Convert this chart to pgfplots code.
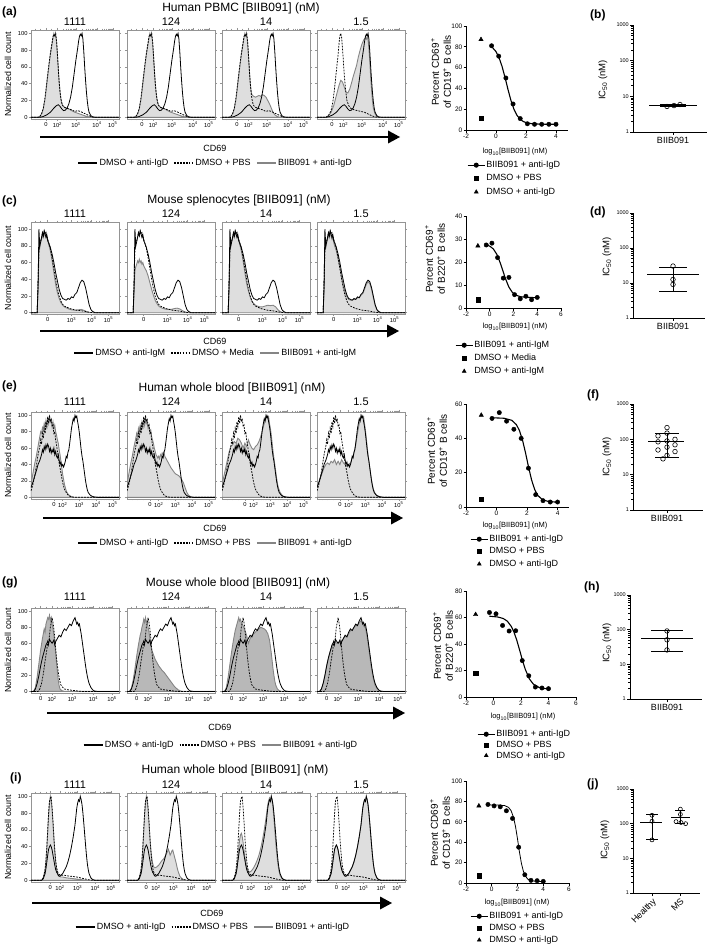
\documentclass[border=0pt]{standalone}
\usepackage{fontspec}
\setmainfont{Liberation Sans}
\usepackage{pgfplots}
\usepackage{pgfplotstable}
\pgfplotsset{compat=1.18}
\definecolor{hfill}{gray}{0.87}
\definecolor{hfillg}{gray}{0.72}
\definecolor{hline}{gray}{0.52}
\definecolor{hframe}{gray}{0.58}
\newcommand{\fsz}[1]{\fontsize{#1}{#1}\selectfont}
\newcommand{\tsup}[1]{10\textsuperscript{#1}}

% ---------------- histogram data (x: display position 0-100, y: normalized count)
\pgfplotstableread[row sep=\\]{x y\\ 0 0\\ 10 0\\ 14 1\\ 18 3\\ 22 6\\ 26 11\\ 29 14\\ 31 15\\ 33 13\\ 35 10\\ 37 8\\ 39 8.5\\ 41 11\\ 43 16\\ 45 24\\ 47 36\\ 49 52\\ 51 68\\ 53 82\\ 54 90\\ 55 96\\ 56 99\\ 57 97\\ 58 100\\ 59 93\\ 60 78\\ 61 60\\ 62 44\\ 63 30\\ 64 19\\ 65 11\\ 66 6\\ 68 2\\ 70 0.5\\ 74 0\\ 100 0\\}\tabAS
\pgfplotstableread[row sep=\\]{x y\\ 0 0\\ 8 0\\ 10 1\\ 12 4\\ 14 11\\ 16 24\\ 18 42\\ 20 60\\ 22 76\\ 24 89\\ 25 96\\ 26 99\\ 27 96\\ 28 100\\ 29 91\\ 30 76\\ 31 58\\ 32 42\\ 33 30\\ 34 22\\ 35 17\\ 36 14\\ 38 12\\ 40 11\\ 43 10\\ 46 9\\ 50 7\\ 53 8\\ 56 7\\ 60 5\\ 64 3\\ 68 1\\ 72 0\\ 100 0\\}\tabAD
\pgfplotstableread[row sep=\\]{x y\\ 0 0\\ 8 0\\ 10 1\\ 12 4\\ 14 10\\ 16 22\\ 18 40\\ 20 58\\ 22 75\\ 24 88\\ 25 95\\ 26 100\\ 27 97\\ 28 99\\ 29 90\\ 30 75\\ 31 58\\ 32 42\\ 33 30\\ 34 22\\ 35 17\\ 36 14\\ 38 12\\ 40 11\\ 43 10\\ 46 8\\ 50 6\\ 54 4.5\\ 58 3\\ 62 1.5\\ 66 0.5\\ 70 0\\ 100 0\\}\tabAGa
\pgfplotstableread[row sep=\\]{x y\\ 0 0\\ 8 0\\ 10 1\\ 12 4\\ 14 10\\ 16 22\\ 18 40\\ 20 58\\ 22 75\\ 24 88\\ 25 95\\ 26 100\\ 27 97\\ 28 99\\ 29 90\\ 30 75\\ 31 58\\ 32 42\\ 33 32\\ 34 27\\ 36 25\\ 38 24\\ 40 25\\ 42 26\\ 44 25\\ 46 27\\ 48 26\\ 50 24\\ 52 20\\ 54 16\\ 56 11\\ 58 6\\ 60 3\\ 63 1\\ 66 0\\ 100 0\\}\tabAGc
\pgfplotstableread[row sep=\\]{x y\\ 0 0\\ 10 0\\ 13 2\\ 16 6\\ 19 14\\ 22 26\\ 25 38\\ 27 44\\ 29 42\\ 31 36\\ 33 30\\ 35 29\\ 37 33\\ 39 40\\ 41 48\\ 43 55\\ 45 62\\ 47 72\\ 49 80\\ 51 87\\ 53 92\\ 55 95\\ 56 93\\ 57 96\\ 58 92\\ 59 82\\ 60 66\\ 61 48\\ 62 33\\ 63 20\\ 64 11\\ 66 4\\ 68 1\\ 71 0\\ 100 0\\}\tabAGd
\pgfplotstableread[row sep=\\]{x y\\ 0 0\\ 10 0\\ 13 2\\ 16 8\\ 18 18\\ 20 35\\ 22 55\\ 24 75\\ 25 88\\ 26 97\\ 27 100\\ 28 95\\ 29 82\\ 30 66\\ 31 50\\ 32 38\\ 33 28\\ 34 20\\ 36 14\\ 38 11\\ 42 9\\ 46 8\\ 50 7\\ 54 6\\ 58 4\\ 62 2\\ 66 0.5\\ 70 0\\ 100 0\\}\tabADd

\pgfplotstableread[row sep=\\]{x y\\ 0 0\\ 7 0\\ 8 30\\ 9 100\\ 10 80\\ 11 85\\ 12 90\\ 13 96\\ 14 92\\ 15 98\\ 16 94\\ 17 90\\ 18 93\\ 19 86\\ 20 84\\ 22 78\\ 24 70\\ 26 60\\ 28 48\\ 30 38\\ 32 28\\ 34 21\\ 36 17\\ 38 16\\ 40 15\\ 42 17\\ 44 16\\ 46 19\\ 48 18\\ 50 22\\ 52 24\\ 54 30\\ 56 36\\ 58 39\\ 60 37\\ 62 30\\ 64 20\\ 66 10\\ 68 4\\ 70 1.5\\ 73 0\\ 100 0\\}\tabCS
\pgfplotstableread[row sep=\\]{x y\\ 0 0\\ 7 0\\ 8 35\\ 9 75\\ 10 82\\ 11 86\\ 12 90\\ 13 95\\ 14 92\\ 15 98\\ 16 95\\ 17 96\\ 18 92\\ 19 88\\ 20 84\\ 22 77\\ 24 66\\ 26 53\\ 28 40\\ 30 29\\ 32 20\\ 34 14\\ 36 10\\ 38 8\\ 40 7\\ 44 5\\ 48 4\\ 52 3\\ 56 2.5\\ 60 2\\ 64 1\\ 68 0.3\\ 72 0\\ 100 0\\}\tabCD
\pgfplotstableread[row sep=\\]{x y\\ 0 0\\ 7 0\\ 8 30\\ 9 70\\ 10 78\\ 11 84\\ 12 88\\ 13 92\\ 14 90\\ 15 95\\ 16 93\\ 17 96\\ 18 90\\ 19 86\\ 20 82\\ 22 74\\ 24 62\\ 26 48\\ 28 34\\ 30 24\\ 32 17\\ 34 12\\ 36 9\\ 38 7\\ 40 6\\ 43 4.5\\ 46 3.5\\ 50 3\\ 54 3.5\\ 57 4\\ 60 3\\ 63 1.5\\ 66 0.5\\ 70 0\\ 100 0\\}\tabCGa
\pgfplotstableread[row sep=\\]{x y\\ 0 0\\ 7 0\\ 8 25\\ 9 50\\ 10 55\\ 11 58\\ 12 62\\ 13 60\\ 14 64\\ 15 60\\ 16 62\\ 17 58\\ 18 60\\ 19 56\\ 20 54\\ 22 50\\ 24 44\\ 26 36\\ 28 28\\ 30 21\\ 32 15\\ 34 11\\ 36 8\\ 38 6.5\\ 40 5.5\\ 43 4.5\\ 46 4\\ 50 4\\ 54 5\\ 57 5.5\\ 60 4.5\\ 63 2.5\\ 66 1\\ 70 0\\ 100 0\\}\tabCGb
\pgfplotstableread[row sep=\\]{x y\\ 0 0\\ 7 0\\ 8 30\\ 9 72\\ 10 80\\ 11 85\\ 12 89\\ 13 93\\ 14 90\\ 15 96\\ 16 94\\ 17 96\\ 18 90\\ 19 86\\ 20 82\\ 22 74\\ 24 62\\ 26 48\\ 28 35\\ 30 26\\ 32 19\\ 34 14\\ 36 11\\ 38 9\\ 40 8\\ 43 7\\ 46 7\\ 49 8\\ 52 9\\ 55 8.5\\ 58 9\\ 61 7\\ 64 3\\ 67 1\\ 70 0\\ 100 0\\}\tabCGc
\pgfplotstableread[row sep=\\]{x y\\ 0 0\\ 7 0\\ 8 28\\ 9 90\\ 10 78\\ 11 84\\ 12 88\\ 13 94\\ 14 90\\ 15 96\\ 16 92\\ 17 88\\ 18 90\\ 19 84\\ 20 80\\ 22 74\\ 24 64\\ 26 54\\ 28 42\\ 30 32\\ 32 24\\ 34 19\\ 36 16\\ 38 15\\ 40 15\\ 42 16\\ 44 16\\ 46 18\\ 48 18\\ 50 21\\ 52 23\\ 54 28\\ 56 34\\ 58 37\\ 60 35\\ 62 28\\ 64 18\\ 66 9\\ 68 3.5\\ 70 1\\ 73 0\\ 100 0\\}\tabCGd

\pgfplotstableread[row sep=\\]{x y\\ 0 12\\ 2 18\\ 4 25\\ 6 32\\ 8 40\\ 10 45\\ 12 52\\ 13 58\\ 14 55\\ 15 62\\ 16 58\\ 17 64\\ 18 60\\ 19 65\\ 20 62\\ 21 56\\ 22 60\\ 23 54\\ 24 58\\ 25 55\\ 26 60\\ 27 52\\ 28 56\\ 29 50\\ 30 48\\ 31 52\\ 32 45\\ 33 40\\ 34 43\\ 35 38\\ 36 40\\ 37 37\\ 38 40\\ 39 44\\ 40 50\\ 41 48\\ 42 55\\ 43 58\\ 44 66\\ 45 75\\ 46 84\\ 47 90\\ 48 96\\ 49 93\\ 50 100\\ 51 97\\ 52 99\\ 53 92\\ 54 86\\ 55 78\\ 56 68\\ 57 58\\ 58 50\\ 59 44\\ 60 36\\ 61 28\\ 62 20\\ 63 14\\ 64 9\\ 65 6\\ 67 3\\ 69 1.5\\ 72 0.5\\ 76 0\\ 100 0\\}\tabES
\pgfplotstableread[row sep=\\]{x y\\ 0 8\\ 2 15\\ 4 25\\ 6 38\\ 8 52\\ 10 62\\ 11 70\\ 12 65\\ 13 78\\ 14 72\\ 15 84\\ 16 78\\ 17 92\\ 18 86\\ 19 98\\ 20 90\\ 21 100\\ 22 92\\ 23 96\\ 24 86\\ 25 88\\ 26 78\\ 27 80\\ 28 70\\ 29 64\\ 30 56\\ 31 50\\ 32 42\\ 33 36\\ 34 30\\ 35 24\\ 36 18\\ 37 14\\ 38 10\\ 40 6\\ 42 3\\ 44 1.5\\ 47 0.5\\ 50 0\\ 100 0\\}\tabED
\pgfplotstableread[row sep=\\]{x y\\ 0 15\\ 2 28\\ 4 40\\ 6 50\\ 8 62\\ 10 74\\ 11 80\\ 12 78\\ 13 85\\ 14 82\\ 15 90\\ 16 86\\ 17 94\\ 18 88\\ 19 96\\ 20 90\\ 21 98\\ 22 92\\ 23 95\\ 24 86\\ 25 92\\ 26 84\\ 27 88\\ 28 80\\ 29 76\\ 30 70\\ 31 66\\ 32 58\\ 33 52\\ 34 44\\ 35 36\\ 36 28\\ 37 22\\ 38 16\\ 39 12\\ 40 8\\ 42 4\\ 44 2\\ 47 0.5\\ 50 0\\ 100 0\\}\tabEGa
\pgfplotstableread[row sep=\\]{x y\\ 0 15\\ 2 28\\ 4 40\\ 6 50\\ 8 62\\ 10 72\\ 11 78\\ 12 74\\ 13 84\\ 14 80\\ 15 88\\ 16 84\\ 17 92\\ 18 86\\ 19 95\\ 20 88\\ 21 96\\ 22 90\\ 23 92\\ 24 84\\ 25 88\\ 26 80\\ 27 82\\ 28 74\\ 29 70\\ 30 66\\ 31 60\\ 32 56\\ 33 52\\ 34 50\\ 35 48\\ 36 50\\ 37 47\\ 38 52\\ 39 50\\ 40 54\\ 41 52\\ 42 55\\ 43 50\\ 44 48\\ 46 44\\ 48 40\\ 50 36\\ 52 33\\ 54 30\\ 56 28\\ 58 27\\ 60 25\\ 62 22\\ 64 18\\ 66 12\\ 68 6\\ 70 2.5\\ 72 1\\ 75 0\\ 100 0\\}\tabEGb
\pgfplotstableread[row sep=\\]{x y\\ 0 15\\ 2 25\\ 4 35\\ 6 45\\ 8 55\\ 10 62\\ 12 64\\ 14 68\\ 16 66\\ 18 72\\ 20 70\\ 22 66\\ 24 60\\ 26 66\\ 28 62\\ 30 70\\ 32 64\\ 34 60\\ 36 58\\ 38 62\\ 40 64\\ 42 68\\ 44 74\\ 46 82\\ 48 90\\ 50 97\\ 51 100\\ 52 96\\ 53 98\\ 54 90\\ 55 84\\ 56 76\\ 57 66\\ 58 56\\ 59 48\\ 60 40\\ 61 32\\ 62 24\\ 63 17\\ 64 12\\ 66 6\\ 68 3\\ 70 1\\ 74 0\\ 100 0\\}\tabEGc
\pgfplotstableread[row sep=\\]{x y\\ 0 12\\ 2 18\\ 4 24\\ 6 30\\ 8 36\\ 10 40\\ 12 42\\ 14 40\\ 16 44\\ 18 42\\ 20 46\\ 22 40\\ 24 44\\ 26 40\\ 28 46\\ 30 42\\ 32 40\\ 34 38\\ 36 40\\ 38 42\\ 40 48\\ 42 54\\ 44 64\\ 46 78\\ 48 90\\ 50 96\\ 51 100\\ 52 97\\ 53 98\\ 54 90\\ 55 82\\ 56 72\\ 57 62\\ 58 52\\ 59 44\\ 60 36\\ 61 28\\ 62 21\\ 63 15\\ 64 10\\ 66 5\\ 68 2.5\\ 71 1\\ 75 0\\ 100 0\\}\tabEGd

\pgfplotstableread[row sep=\\]{x y\\ 0 0\\ 3 0\\ 5 3\\ 7 10\\ 9 20\\ 11 32\\ 13 42\\ 15 50\\ 17 58\\ 19 62\\ 20 60\\ 21 65\\ 22 63\\ 24 60\\ 26 64\\ 27 58\\ 28 62\\ 30 66\\ 32 70\\ 34 68\\ 36 74\\ 38 78\\ 40 76\\ 42 80\\ 44 84\\ 46 82\\ 48 88\\ 50 92\\ 51 88\\ 52 84\\ 53 86\\ 54 82\\ 55 84\\ 56 78\\ 57 72\\ 58 64\\ 59 56\\ 60 48\\ 61 40\\ 62 32\\ 63 25\\ 64 19\\ 65 14\\ 66 10\\ 68 5\\ 70 2\\ 72 0.5\\ 75 0\\ 100 0\\}\tabGS
\pgfplotstableread[row sep=\\]{x y\\ 0 0\\ 8 0\\ 10 3\\ 12 10\\ 14 22\\ 16 38\\ 18 52\\ 19 62\\ 20 58\\ 21 70\\ 22 80\\ 23 86\\ 24 92\\ 25 86\\ 26 78\\ 27 66\\ 28 54\\ 29 42\\ 30 32\\ 31 24\\ 32 17\\ 33 12\\ 34 8\\ 36 5\\ 38 3\\ 42 2\\ 46 1.5\\ 50 1\\ 54 0.3\\ 58 0\\ 100 0\\}\tabGD
\pgfplotstableread[row sep=\\]{x y\\ 0 0\\ 3 0\\ 5 5\\ 7 18\\ 9 35\\ 11 52\\ 13 66\\ 14 72\\ 15 78\\ 16 74\\ 17 84\\ 18 88\\ 19 92\\ 20 90\\ 21 95\\ 22 88\\ 23 92\\ 24 84\\ 25 78\\ 26 70\\ 27 60\\ 28 48\\ 29 36\\ 30 24\\ 31 14\\ 32 7\\ 33 3\\ 35 1\\ 38 0\\ 100 0\\}\tabGGa
\pgfplotstableread[row sep=\\]{x y\\ 0 0\\ 3 0\\ 5 4\\ 7 14\\ 9 28\\ 11 44\\ 13 58\\ 15 70\\ 16 74\\ 17 80\\ 18 84\\ 19 90\\ 20 86\\ 21 92\\ 22 86\\ 23 88\\ 24 80\\ 25 74\\ 26 66\\ 27 58\\ 28 52\\ 30 46\\ 32 40\\ 34 36\\ 36 32\\ 38 29\\ 40 26\\ 42 24\\ 44 21\\ 46 18\\ 48 15\\ 50 12\\ 52 9\\ 54 6\\ 56 4\\ 58 2\\ 61 0.5\\ 64 0\\ 100 0\\}\tabGGb
\pgfplotstableread[row sep=\\]{x y\\ 0 0\\ 3 0\\ 5 5\\ 7 18\\ 9 34\\ 11 50\\ 13 64\\ 15 76\\ 17 84\\ 18 88\\ 19 92\\ 20 88\\ 21 90\\ 22 86\\ 24 82\\ 26 76\\ 28 70\\ 29 64\\ 30 60\\ 32 66\\ 34 70\\ 36 72\\ 38 74\\ 40 76\\ 42 78\\ 44 80\\ 46 79\\ 48 78\\ 50 76\\ 52 72\\ 54 64\\ 55 56\\ 56 48\\ 57 38\\ 58 28\\ 59 20\\ 60 13\\ 61 8\\ 63 3\\ 65 1\\ 68 0\\ 100 0\\}\tabGGc
\pgfplotstableread[row sep=\\]{x y\\ 0 0\\ 3 0\\ 5 3\\ 7 10\\ 9 20\\ 11 32\\ 13 42\\ 15 50\\ 17 56\\ 19 60\\ 21 62\\ 22 60\\ 24 60\\ 26 62\\ 28 62\\ 30 66\\ 32 70\\ 34 68\\ 36 72\\ 38 76\\ 40 76\\ 42 80\\ 44 82\\ 46 82\\ 48 86\\ 50 88\\ 52 84\\ 54 80\\ 55 80\\ 56 74\\ 57 68\\ 58 60\\ 59 52\\ 60 44\\ 61 36\\ 62 29\\ 63 22\\ 64 16\\ 65 12\\ 66 8\\ 68 4\\ 70 1.5\\ 73 0\\ 100 0\\}\tabGGd

\pgfplotstableread[row sep=\\]{x y\\ 0 0\\ 12 0\\ 14 2\\ 16 8\\ 17 14\\ 18 22\\ 19 30\\ 20 37\\ 21 40\\ 22 42\\ 23 40\\ 24 36\\ 25 30\\ 26 24\\ 27 18\\ 28 13\\ 29 10\\ 30 8\\ 31 6\\ 32 5\\ 33 5\\ 34 6\\ 36 8\\ 38 12\\ 40 16\\ 42 22\\ 44 30\\ 46 40\\ 48 52\\ 50 66\\ 51 76\\ 52 86\\ 53 92\\ 54 96\\ 55 94\\ 56 100\\ 57 96\\ 58 90\\ 59 80\\ 60 68\\ 61 55\\ 62 42\\ 63 30\\ 64 20\\ 65 13\\ 66 8\\ 68 3\\ 70 1\\ 73 0\\ 100 0\\}\tabIS
\pgfplotstableread[row sep=\\]{x y\\ 0 0\\ 12 0\\ 14 3\\ 16 13\\ 17 24\\ 18 40\\ 19 60\\ 20 80\\ 21 94\\ 22 98\\ 23 100\\ 24 86\\ 25 70\\ 26 52\\ 27 36\\ 28 24\\ 29 16\\ 30 11\\ 31 8\\ 32 7\\ 34 6\\ 36 6\\ 38 6\\ 40 5.5\\ 44 5\\ 48 4.5\\ 52 4\\ 56 3\\ 60 2\\ 64 1\\ 68 0.3\\ 72 0\\ 100 0\\}\tabID
\pgfplotstableread[row sep=\\]{x y\\ 0 0\\ 12 0\\ 14 3\\ 16 12\\ 17 22\\ 18 38\\ 19 58\\ 20 78\\ 21 92\\ 22 100\\ 23 94\\ 24 84\\ 25 68\\ 26 50\\ 27 34\\ 28 22\\ 29 14\\ 30 9\\ 31 6\\ 32 5\\ 34 4\\ 36 4\\ 38 3.5\\ 40 3\\ 44 2.5\\ 48 2\\ 52 1.5\\ 56 1\\ 60 0.5\\ 64 0\\ 100 0\\}\tabIGa
\pgfplotstableread[row sep=\\]{x y\\ 0 0\\ 12 0\\ 14 3\\ 16 12\\ 17 22\\ 18 38\\ 19 58\\ 20 78\\ 21 92\\ 22 100\\ 23 94\\ 24 84\\ 25 68\\ 26 52\\ 27 38\\ 28 28\\ 29 21\\ 30 17\\ 31 15\\ 32 15\\ 34 16\\ 36 18\\ 38 21\\ 40 24\\ 42 26\\ 44 30\\ 46 34\\ 47 37\\ 48 34\\ 49 30\\ 50 32\\ 51 35\\ 52 36\\ 53 32\\ 54 28\\ 55 24\\ 56 20\\ 57 15\\ 58 11\\ 59 8\\ 60 5\\ 62 2.5\\ 64 1\\ 67 0\\ 100 0\\}\tabIGb
\pgfplotstableread[row sep=\\]{x y\\ 0 0\\ 12 0\\ 14 2\\ 16 8\\ 17 15\\ 18 25\\ 19 38\\ 20 48\\ 21 54\\ 22 56\\ 23 52\\ 24 45\\ 25 36\\ 26 28\\ 27 21\\ 28 16\\ 29 13\\ 30 11\\ 31 10\\ 32 10\\ 34 12\\ 36 15\\ 38 19\\ 40 24\\ 42 30\\ 44 38\\ 46 48\\ 48 60\\ 50 74\\ 51 82\\ 52 90\\ 53 95\\ 54 98\\ 55 94\\ 56 100\\ 57 94\\ 58 86\\ 59 74\\ 60 60\\ 61 46\\ 62 34\\ 63 24\\ 64 16\\ 65 10\\ 66 6\\ 68 2.5\\ 70 1\\ 73 0\\ 100 0\\}\tabIGc

% ---------------- dose-response data
\pgfplotstableread[row sep=\\]{x y\\ -0.295 81\\ 0.182 71\\ 0.659 50\\ 1.137 25\\ 1.614 11\\ 2.091 6\\ 2.568 5.5\\ 3.046 5.5\\ 3.523 5.5\\ 4 5.5\\}\doseAp
\pgfplotstableread[row sep=\\]{x y\\ -0.3 80.3\\ 0 75.4\\ 0.2 69.6\\ 0.4 61.3\\ 0.6 50.6\\ 0.8 38.9\\ 1.0 28.2\\ 1.2 19.9\\ 1.4 14.1\\ 1.6 10.5\\ 1.8 8.3\\ 2.0 7.1\\ 2.4 6.0\\ 3.0 5.6\\ 4.0 5.5\\}\doseAf
\pgfplotstableread[row sep=\\]{x y\\ -0.295 27.4\\ 0.182 28.2\\ 0.659 21.9\\ 1.137 13\\ 1.614 13.3\\ 2.091 5.8\\ 2.568 4.0\\ 3.046 5.1\\ 3.523 3.6\\ 4 4.6\\}\doseCp
\pgfplotstableread[row sep=\\]{x y\\ -0.3 27.5\\ 0 26.9\\ 0.3 25.7\\ 0.6 23.3\\ 0.9 19.4\\ 1.1 16.25\\ 1.3 13.1\\ 1.6 9.2\\ 1.9 6.8\\ 2.2 5.6\\ 2.6 4.9\\ 3.2 4.6\\ 4.0 4.5\\}\doseCf
\pgfplotstableread[row sep=\\]{x y\\ -0.295 51.6\\ 0.182 55\\ 0.659 50\\ 1.137 45.3\\ 1.614 40\\ 2.091 22.6\\ 2.568 7.2\\ 3.046 3.7\\ 3.523 2.9\\ 4 2.9\\}\doseEp
\pgfplotstableread[row sep=\\]{x y\\ -0.3 52\\ 0.5 51.7\\ 1.0 50.5\\ 1.3 48.0\\ 1.5 44.6\\ 1.7 39.1\\ 1.9 31.6\\ 2.1 23.2\\ 2.3 15.7\\ 2.5 10.2\\ 2.7 6.8\\ 3.0 4.3\\ 3.4 3.2\\ 4 2.8\\}\doseEf
\pgfplotstableread[row sep=\\]{x y\\ -0.295 63.8\\ 0.182 62.8\\ 0.659 54\\ 1.137 49.8\\ 1.614 50\\ 2.091 27.5\\ 2.568 16\\ 3.046 7.5\\ 3.523 6.8\\ 4 6.3\\}\doseGp
\pgfplotstableread[row sep=\\]{x y\\ -0.3 61.0\\ 0.3 60.4\\ 0.7 59.3\\ 1.0 57.3\\ 1.3 53.2\\ 1.5 48.7\\ 1.7 42.6\\ 1.9 35.4\\ 2.1 27.9\\ 2.3 21.2\\ 2.6 13.8\\ 2.9 9.7\\ 3.3 7.3\\ 3.7 6.4\\ 4.0 6.2\\}\doseGf
\pgfplotstableread[row sep=\\]{x y\\ -0.295 77\\ 0.182 75.6\\ 0.659 74.7\\ 1.137 70.8\\ 1.614 63.3\\ 2.091 35.1\\ 2.568 8.1\\ 3.046 2.6\\ 3.523 2.3\\ 4 1.6\\}\doseIp
\pgfplotstableread[row sep=\\]{x y\\ -0.3 76.5\\ 0.5 76.4\\ 1.0 75.9\\ 1.3 74.2\\ 1.5 71.0\\ 1.7 64.0\\ 1.85 55.1\\ 2.0 43.3\\ 2.15 30.5\\ 2.3 19.5\\ 2.45 11.8\\ 2.6 7.0\\ 2.8 3.8\\ 3.1 2.1\\ 3.5 1.6\\ 4.0 1.5\\}\doseIf

\pgfplotsset{
 hbase/.style={scale only axis, width=88pt, anchor=south west, xmin=0, xmax=100,
   axis line style={draw=hframe, line width=0.6pt},
   tick style={draw=hframe, line width=0.5pt}, tick align=outside,
   major tick length=2.2pt, minor tick length=1.3pt,
   ytick={0,20,40,60,80,100}, yticklabels={},
   xticklabel style={font=\fsz{5.8}, inner sep=0.8pt},
   yticklabel style={font=\fsz{5.8}, inner sep=1pt},
   legend image code/.code={\draw[##1] (0pt,0pt) -- (19pt,0pt);},
   legend columns=3,
   legend style={draw=none, fill=none, anchor=center, font=\fsz{9}, inner sep=0pt,
     nodes={inner sep=1pt}, /tikz/every even column/.append style={column sep=4pt}}},
 hsolid/.style={black, line width=0.8pt},
 hdash/.style={black, line width=0.75pt, dash pattern=on 1.8pt off 1.2pt},
 rowA/.style={height=89pt, ymin=-2, ymax=104, xtick={17,30,51,75,93},
   xticklabels={0,\tsup{2},\tsup{3},\tsup{4},\tsup{5}},
   minor xtick={5,11,23,36.3,40,42.6,44.7,46.3,47.7,49,50,58.2,62.4,65.4,67.8,69.7,71.3,72.7,73.9,80.4,83.6,85.8,87.6,89,90.2,91.3,92.2}},
 rowC/.style={height=92pt, ymin=-1.5, ymax=108.5, xtick={19,46,69,88},
   xticklabels={0,\tsup{3},\tsup{4},\tsup{5}},
   minor xtick={5,11,30,35,40,52.9,57,59.8,62.1,63.9,65.4,66.8,67.9,74.7,78.1,80.4,82.3,83.8,85.1,86.2,87.1}},
 rowE/.style={height=87pt, ymin=-2, ymax=104, xtick={26,36,55,74,93},
   xticklabels={0,\tsup{2},\tsup{3},\tsup{4},\tsup{5}},
   minor xtick={6,12,18,41.7,45.1,47.4,49.3,50.8,52.1,53.2,54.1,60.7,64.1,66.4,68.3,69.8,71.1,72.2,73.1,79.7,83.1,85.4,87.3,88.8,90.1,91.2,92.1}},
 rowG/.style={height=85pt, ymin=-2, ymax=104, xtick={11,24,47,71,92},
   xticklabels={0,\tsup{2},\tsup{3},\tsup{4},\tsup{5}},
   minor xtick={5,17,29.9,34,36.8,39.1,40.9,42.4,43.8,44.9,54.2,58.4,61.4,63.8,65.7,67.3,68.7,69.9,77.3,81,83.6,85.7,87.3,88.7,90,91}},
 rowI/.style={height=89pt, ymin=-2, ymax=104, xtick={22,33,53,73,91},
   xticklabels={0,\tsup{2},\tsup{3},\tsup{4},\tsup{5}},
   minor xtick={5,11,17,39,42.5,45,47,48.6,49.9,51.1,52.1,59,62.5,65,67,68.6,69.9,71.1,72.1,78.4,81.6,83.8,85.6,87,88.2,89.3,90.2}},
 first/.style={yticklabels={0,20,40,60,80,100}},
 dbase/.style={scale only axis, anchor=south west, axis lines=left,
   axis line style={-, line width=0.8pt}, tick style={black, line width=0.8pt},
   tick align=outside, major tick length=2.5pt,
   xticklabel style={font=\fsz{6.5}, inner sep=1pt},
   yticklabel style={font=\fsz{6.5}, inner sep=1pt},
   clip=false, legend cell align=left,
   legend style={draw=none, fill=none, anchor=north west, font=\fsz{9}, inner sep=0pt,
     row sep=2.5pt, nodes={inner sep=1pt}}},
 dcurve/.style={black, line width=1.1pt},
 dpts/.style={black, only marks, mark=*, mark size=2.2pt},
 icbase/.style={scale only axis, anchor=south west, axis lines=left,
   axis line style={-, line width=0.9pt}, ymin=1, ymax=1000,
   ytick={1,10,100,1000}, yticklabels={1,10,100,1000},
   minor ytick={2,3,4,5,6,7,8,9,20,30,40,50,60,70,80,90,200,300,400,500,600,700,800,900},
   tick style={black, line width=0.7pt}, tick align=outside,
   major tick length=3pt, minor tick length=1.6pt,
   yticklabel style={font=\fsz{5.5}, inner sep=1pt},
   xticklabel style={font=\fsz{9}, inner sep=2pt},
   clip=false, xtick={0}, xticklabels={BIIB091}},
 icl/.style={black, line width=0.9pt},
 icm/.style={black, only marks, mark=o, mark size=2.3pt, mark options={line width=0.6pt}},
}

\newcommand{\histpanel}[7]{%
\begin{axis}[hbase,#2,at={(#1)}]
\addplot[fill=#3,draw=hline,line width=0.9pt,forget plot] table {#4} \closedcycle;
\addplot[hdash,forget plot] table {#5};
\addplot[hsolid,forget plot] table {#6};
#7
\end{axis}}
\newcommand{\hleg}[3]{\addlegendimage{black,line width=2.4pt}\addlegendentry{#1}%
\addlegendimage{black,line width=2pt,dash pattern=on 1.6pt off 1.3pt}\addlegendentry{#2}%
\addlegendimage{hline,line width=2.4pt}\addlegendentry{#3}}
\newcommand{\dleg}[3]{\addlegendimage{black,line width=1pt,mark=*,mark size=2pt}\addlegendentry{#1}%
\addlegendimage{black,only marks,mark=square*,mark size=2pt}\addlegendentry{#2}%
\addlegendimage{black,only marks,mark=triangle*,mark size=2.3pt}\addlegendentry{#3}}
\newcommand{\plab}[3]{\node[font=\bfseries\fsz{12}, anchor=west, inner sep=0pt] at (#1pt,-#2pt) {#3};}
\newcommand{\collabs}[1]{\foreach \xx/\lab in {75/1111,171/124,266/14,361/1.5}
  \node[font=\fsz{11}, inner sep=0pt] at (\xx pt,-#1pt) {\lab};}
\newcommand{\arrowline}[3]{\draw[line width=1.3pt] (#1pt,-#2pt) -- ({#3pt-11pt},-#2pt);
  \fill ({#3pt-12pt},{-#2pt+6.5pt}) -- (#3pt,-#2pt) -- ({#3pt-12pt},{-#2pt-6.5pt}) -- cycle;}
\newcommand{\dylab}[4]{\node[font=\fontsize{10}{12}\selectfont, rotate=90, align=center, inner sep=0pt] at (#1pt,-#2pt) {Percent CD69\textsuperscript{+}\\of #3\textsuperscript{+} B cells};}
\newcommand{\dxlab}[2]{\node[font=\fsz{7.5}, inner sep=0pt] at (#1pt,-#2pt) {log\textsubscript{10}[BIIB091] (nM)};}
\newcommand{\iclab}[2]{\node[font=\fsz{9.5}, rotate=90, inner sep=0pt] at (#1pt,-#2pt) {IC\textsubscript{50} (nM)};}

\begin{document}
\begin{tikzpicture}
\useasboundingbox (0pt,0pt) rectangle (709pt,-947pt);

% ================= ROW (a)
\plab{2}{12}{(a)}
\node[font=\fsz{12}, inner sep=0pt] at (241pt,-8pt) {Human PBMC [BIIB091] (nM)};
\collabs{22}
\node[font=\fsz{8.8}, rotate=90, inner sep=0pt] at (8pt,-74.5pt) {Normalized cell count};
\histpanel{31pt,-119pt}{rowA,first,legend style={at={(2.091,-0.494)}}}{hfill}{\tabAGa}{\tabAD}{\tabAS}{\hleg{DMSO + anti-IgD}{DMSO + PBS}{BIIB091 + anti-IgD}}
\histpanel{127pt,-119pt}{rowA}{hfill}{\tabAGa}{\tabAD}{\tabAS}{}
\histpanel{222pt,-119pt}{rowA}{hfill}{\tabAGc}{\tabAD}{\tabAS}{}
\histpanel{317pt,-119pt}{rowA}{hfill}{\tabAGd}{\tabADd}{\tabAS}{}
\arrowline{40}{137}{400}
\node[font=\fsz{9}, inner sep=0pt] at (215pt,-148pt) {CD69};

\begin{axis}[dbase, at={(466pt,-130pt)}, width=102pt, height=104pt, xmin=-2, xmax=4.8, ymin=0, ymax=100,
  xtick={-2,0,2,4}, xticklabels={-2,0,2,4}, ytick={0,20,40,60,80,100}, yticklabels={0,20,40,60,80,100},
  legend style={at={(0.01,-0.288)}, row sep=3.5pt}]
\addplot[dcurve, forget plot] table {\doseAf};
\addplot[dpts, forget plot] table {\doseAp};
\addplot[black, only marks, mark=square*, mark size=2.1pt, forget plot] coordinates {(-1,11)};
\addplot[black, only marks, mark=triangle*, mark size=2.5pt, forget plot] coordinates {(-1,87)};
\dleg{BIIB091 + anti-IgD}{DMSO + PBS}{DMSO + anti-IgD}
\end{axis}
\dylab{441}{72}{CD19}{}
\dxlab{515}{152}

\begin{semilogyaxis}[icbase, at={(633pt,-132pt)}, width=74pt, height=107pt, xmin=-2, xmax=1.7]
\addplot[icl] coordinates {(-1.2,5.5) (1.2,5.5)};
\addplot[icl] coordinates {(0,5.1) (0,5.9)};
\addplot[icl] coordinates {(-0.65,5.1) (0.65,5.1)};
\addplot[icl] coordinates {(-0.65,5.9) (0.65,5.9)};
\addplot[icm] coordinates {(-0.3,5.2) (0.05,5.5) (0.35,5.9)};
\end{semilogyaxis}
\plab{590}{15}{(b)}
\iclab{603}{80}

% ================= ROW (c)
\plab{2}{201}{(c)}
\node[font=\fsz{12}, inner sep=0pt] at (239pt,-200pt) {Mouse splenocytes [BIIB091] (nM)};
\collabs{214}
\node[font=\fsz{8.8}, rotate=90, inner sep=0pt] at (8pt,-268pt) {Normalized cell count};
\histpanel{31pt,-314pt}{rowC,first,legend style={at={(2.091,-0.424)}}}{hfill}{\tabCGa}{\tabCD}{\tabCS}{\hleg{DMSO + anti-IgM}{DMSO + Media}{BIIB091 + anti-IgM}}
\histpanel{127pt,-314pt}{rowC}{hfill}{\tabCGb}{\tabCD}{\tabCS}{}
\histpanel{222pt,-314pt}{rowC}{hfill}{\tabCGc}{\tabCD}{\tabCS}{}
\histpanel{317pt,-314pt}{rowC}{hfill}{\tabCGd}{\tabCD}{\tabCS}{}
\arrowline{40}{331}{399}
\node[font=\fsz{9}, inner sep=0pt] at (215pt,-341pt) {CD69};

\begin{axis}[dbase, at={(466pt,-308pt)}, width=95pt, height=92pt, xmin=-2, xmax=6, ymin=0, ymax=40,
  xtick={-2,0,2,4,6}, xticklabels={-2,0,2,4,6}, ytick={0,10,20,30,40}, yticklabels={0,10,20,30,40},
  legend style={at={(-0.116,-0.348)}, row sep=3pt}]
\addplot[dcurve, forget plot] table {\doseCf};
\addplot[dpts, forget plot] table {\doseCp};
\addplot[black, only marks, mark=square*, mark size=2.1pt, forget plot] coordinates {(-1,3.6)};
\addplot[black, only marks, mark=triangle*, mark size=2.5pt, forget plot] coordinates {(-1,27)};
\dleg{BIIB091 + anti-IgM}{DMSO + Media}{DMSO + anti-IgM}
\end{axis}
\dylab{435}{259}{B220}{}
\dxlab{515}{327}

\begin{semilogyaxis}[icbase, at={(633pt,-318pt)}, width=72pt, height=105pt, xmin=-2, xmax=1.6]
\addplot[icl] coordinates {(-1.3,17.2) (1.3,17.2)};
\addplot[icl] coordinates {(0,5.9) (0,28.5)};
\addplot[icl] coordinates {(-0.7,5.9) (0.7,5.9)};
\addplot[icl] coordinates {(-0.7,28.5) (0.7,28.5)};
\addplot[icm] coordinates {(0,30.5) (0,12.6) (0,9.1)};
\end{semilogyaxis}
\plab{590}{212}{(d)}
\iclab{607}{257}

% ================= ROW (e)
\plab{2}{386}{(e)}
\node[font=\fsz{12}, inner sep=0pt] at (232pt,-388pt) {Human whole blood [BIIB091] (nM)};
\collabs{402}
\node[font=\fsz{8.8}, rotate=90, inner sep=0pt] at (8pt,-455.5pt) {Normalized cell count};
\histpanel{31pt,-499pt}{rowE,first,legend style={at={(2.091,-0.506)}}}{hfill}{\tabEGa}{\tabED}{\tabES}{\hleg{DMSO + anti-IgD}{DMSO + PBS}{BIIB091 + anti-IgD}}
\histpanel{127pt,-499pt}{rowE}{hfill}{\tabEGb}{\tabED}{\tabES}{}
\histpanel{222pt,-499pt}{rowE}{hfill}{\tabEGc}{\tabED}{\tabES}{}
\histpanel{317pt,-499pt}{rowE}{hfill}{\tabEGd}{\tabED}{\tabES}{}
\arrowline{43}{518}{403}
\node[font=\fsz{9}, inner sep=0pt] at (215pt,-528pt) {CD69};

\begin{axis}[dbase, at={(466pt,-507pt)}, width=103pt, height=103pt, xmin=-2, xmax=4.75, ymin=0, ymax=60,
  xtick={-2,0,2,4}, xticklabels={-2,0,2,4}, ytick={0,20,40,60}, yticklabels={0,20,40,60},
  legend style={at={(0.039,-0.262)}, row sep=2.5pt}]
\addplot[dcurve, forget plot] table {\doseEf};
\addplot[dpts, forget plot] table {\doseEp};
\addplot[black, only marks, mark=square*, mark size=2.1pt, forget plot] coordinates {(-1,4.6)};
\addplot[black, only marks, mark=triangle*, mark size=2.5pt, forget plot] coordinates {(-1,53.5)};
\dleg{BIIB091 + anti-IgD}{DMSO + PBS}{DMSO + anti-IgD}
\end{axis}
\dylab{437}{451}{CD19}{}
\dxlab{515}{526}

\begin{semilogyaxis}[icbase, at={(633pt,-510pt)}, width=70pt, height=106pt, xmin=-1.7, xmax=1.8]
\addplot[icl] coordinates {(-0.95,87) (0.85,87)};
\addplot[icl] coordinates {(0,31) (0,145)};
\addplot[icl] coordinates {(-0.6,31) (0.6,31)};
\addplot[icl] coordinates {(-0.6,145) (0.6,145)};
\addplot[icm] coordinates {(0,215) (0,150) (-0.45,125) (0.4,100) (0,90) (-0.45,85) (0.4,70) (0,60) (-0.45,50) (0.4,45) (0,35) (-0.2,28)};
\end{semilogyaxis}
\plab{587}{395}{(f)}
\iclab{607}{457}

% ================= ROW (g)
\plab{2}{582}{(g)}
\node[font=\fsz{12}, inner sep=0pt] at (238pt,-583pt) {Mouse whole blood [BIIB091] (nM)};
\collabs{597}
\node[font=\fsz{8.8}, rotate=90, inner sep=0pt] at (8pt,-650.5pt) {Normalized cell count};
\histpanel{31pt,-693pt}{rowG,first,legend style={at={(2.15,-0.612)}}}{hfillg}{\tabGGa}{\tabGD}{\tabGS}{\hleg{DMSO + anti-IgD}{DMSO + PBS}{BIIB091 + anti-IgD}}
\histpanel{127pt,-693pt}{rowG}{hfillg}{\tabGGb}{\tabGD}{\tabGS}{}
\histpanel{222pt,-693pt}{rowG}{hfillg}{\tabGGc}{\tabGD}{\tabGS}{}
\histpanel{317pt,-693pt}{rowG}{hfillg}{\tabGGd}{\tabGD}{\tabGS}{}
\arrowline{47}{713}{405}
\node[font=\fsz{9}, inner sep=0pt] at (220pt,-727pt) {CD69};

\begin{axis}[dbase, at={(466pt,-697pt)}, width=110pt, height=106pt, xmin=-2, xmax=6, ymin=0, ymax=80,
  xtick={-2,0,2,4,6}, xticklabels={-2,0,2,4,6}, ytick={0,20,40,60,80}, yticklabels={0,20,40,60,80},
  legend style={at={(0.1,-0.302)}, row sep=0.8pt}]
\addplot[dcurve, forget plot] table {\doseGf};
\addplot[dpts, forget plot] table {\doseGp};
\addplot[black, only marks, mark=square*, mark size=2.1pt, forget plot] coordinates {(-1.3,18)};
\addplot[black, only marks, mark=triangle*, mark size=2.5pt, forget plot] coordinates {(-1.3,62.3)};
\dleg{BIIB091 + anti-IgD}{DMSO + PBS}{DMSO + anti-IgD}
\end{axis}
\dylab{443}{646}{B220}{}
\dxlab{523}{717}

\begin{semilogyaxis}[icbase, at={(630pt,-699pt)}, width=72pt, height=104pt, xmin=-1.85, xmax=1.75]
\addplot[icl] coordinates {(-1.3,57) (1.3,57)};
\addplot[icl] coordinates {(0,23.5) (0,92)};
\addplot[icl] coordinates {(-0.8,23.5) (0.8,23.5)};
\addplot[icl] coordinates {(-0.8,92) (0.8,92)};
\addplot[icm] coordinates {(0,92) (0,51) (0,26)};
\end{semilogyaxis}
\plab{584}{587}{(h)}
\iclab{607}{643}

% ================= ROW (i)
\plab{10}{778}{(i)}
\node[font=\fsz{12}, inner sep=0pt] at (235pt,-770pt) {Human whole blood [BIIB091] (nM)};
\collabs{785}
\node[font=\fsz{8.8}, rotate=90, inner sep=0pt] at (8pt,-837.5pt) {Normalized cell count};
\histpanel{31pt,-882pt}{rowI,first,legend style={at={(2.06,-0.506)}}}{hfill}{\tabIGa}{\tabID}{\tabIS}{\hleg{DMSO + anti-IgD}{DMSO + PBS}{BIIB091 + anti-IgD}}
\histpanel{127pt,-882pt}{rowI}{hfill}{\tabIGb}{\tabID}{\tabIS}{}
\histpanel{222pt,-882pt}{rowI}{hfill}{\tabIGc}{\tabID}{\tabIS}{}
\histpanel{317pt,-882pt}{rowI}{hfill}{\tabIS}{\tabID}{\tabIS}{}
\arrowline{32}{903}{392}
\node[font=\fsz{9}, inner sep=0pt] at (212pt,-913pt) {CD69};

\begin{axis}[dbase, at={(466pt,-883pt)}, width=103pt, height=102pt, xmin=-2, xmax=6, ymin=0, ymax=100,
  xtick={-2,0,2,4,6}, xticklabels={-2,0,2,4,6}, ytick={0,20,40,60,80,100}, yticklabels={0,20,40,60,80,100},
  legend style={at={(0.039,-0.275)}, row sep=2pt}]
\addplot[black, line width=0.8pt, forget plot] table {\doseIf};
\addplot[dpts, forget plot] table {\doseIp};
\addplot[black, only marks, mark=square*, mark size=2.1pt, forget plot] coordinates {(-1,7.1)};
\addplot[black, only marks, mark=triangle*, mark size=2.5pt, forget plot] coordinates {(-1,75.6)};
\dleg{BIIB091 + anti-IgD}{DMSO + PBS}{DMSO + anti-IgD}
\end{axis}
\dylab{440}{833}{CD19}{}
\dxlab{517}{903}

\begin{semilogyaxis}[icbase, at={(633pt,-893pt)}, width=67pt, height=104pt, xmin=-0.95, xmax=2.4,
  xtick={0,1.4}, xticklabels={Healthy,MS}, xticklabel style={rotate=45, anchor=north east, inner sep=1pt}]
\addplot[icl] coordinates {(-0.6,108) (0.5,108)};
\addplot[icl] coordinates {(0,36) (0,180)};
\addplot[icl] coordinates {(-0.3,36) (0.3,36)};
\addplot[icl] coordinates {(-0.3,180) (0.3,180)};
\addplot[icm, mark size=2pt] coordinates {(0,175) (0,118) (0,34)};
\addplot[icl] coordinates {(0.95,154) (1.9,154)};
\addplot[icl] coordinates {(1.4,103) (1.4,235)};
\addplot[icl] coordinates {(1.15,103) (1.65,103)};
\addplot[icl] coordinates {(1.15,235) (1.65,235)};
\addplot[icm, mark size=2pt] coordinates {(1.42,262) (1.42,185) (1.2,115) (1.45,108) (1.68,100)};
\end{semilogyaxis}
\plab{587}{784}{(j)}
\iclab{605}{840}

\end{tikzpicture}
\end{document}
